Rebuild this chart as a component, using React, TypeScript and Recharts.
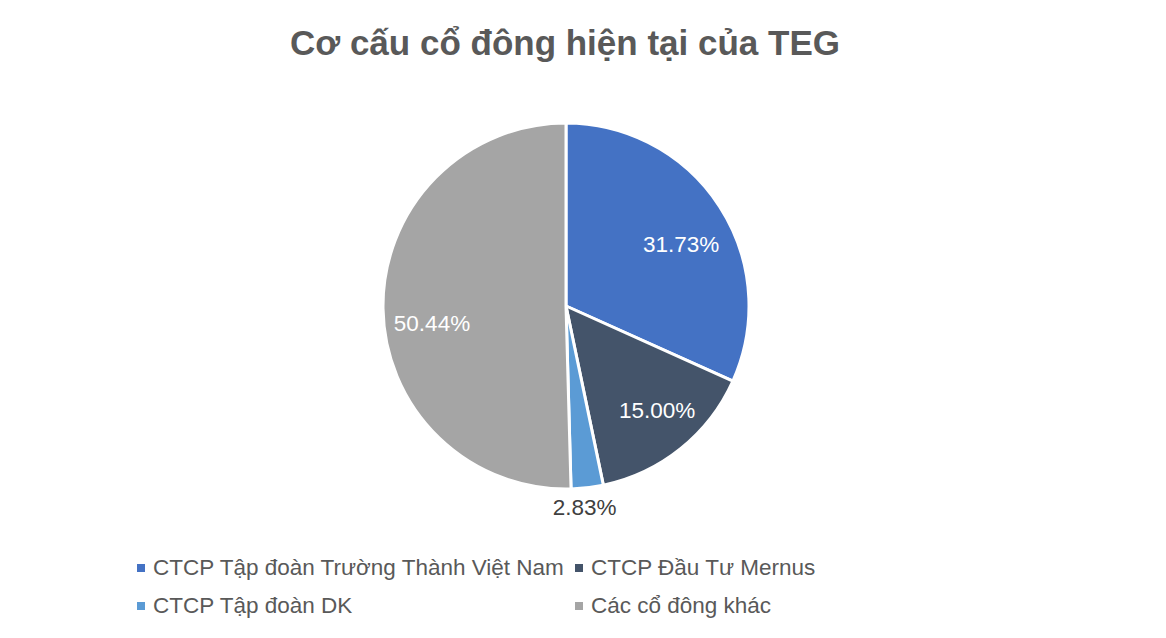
import { PieChart, Pie, Cell, Legend } from 'recharts';

const names = [
  'CTCP Tập đoàn Trường Thành Việt Nam',
  'CTCP Đầu Tư Mernus',
  'CTCP Tập đoàn DK',
  'Các cổ đông khác',
];
const shares = [31.73, 15.0, 2.83, 50.44];
const colors = ['#4472C4', '#44546A', '#5B9BD5', '#A5A5A5'];

const data = names.map((name, i) => ({ name, value: shares[i] }));

const RAD = Math.PI / 180;
const FONT = '"Liberation Sans", Arial, sans-serif';

// small nudges so the labels sit where Excel put them
const labelNudge = [
  [1, 12],
  [6, -2],
  [-5, 0],
  [2, 16],
];

const renderLabel = (props: any) => {
  const { cx, cy, midAngle, outerRadius, value, index } = props;
  const outside = index === 2;
  const r = outside ? outerRadius + 20 : 136;
  const x = cx + r * Math.cos(-midAngle * RAD) + labelNudge[index][0];
  const y = cy + r * Math.sin(-midAngle * RAD) + labelNudge[index][1];
  return (
    <text
      x={x}
      y={y}
      fill={outside ? '#404040' : '#ffffff'}
      fontSize={22.5}
      fontFamily={FONT}
      textAnchor="middle"
      dominantBaseline="central"
    >
      {value.toFixed(2)}%
    </text>
  );
};

const legendCols = [137, 575];

const renderLegend = () => (
  <div style={{ position: 'relative', width: 1166, height: 80, fontFamily: FONT }}>
    {names.map((n, i) => (
      <div
        key={n}
        style={{
          position: 'absolute',
          left: legendCols[i % 2],
          top: Math.floor(i / 2) * 38,
          display: 'flex',
          alignItems: 'center',
          fontSize: 22.5,
          lineHeight: '26px',
          color: '#595959',
          whiteSpace: 'nowrap',
        }}
      >
        <span style={{ width: 8, height: 8, background: colors[i], marginRight: 8 }} />
        {n}
      </div>
    ))}
  </div>
);

export default function App() {
  return (
    <div style={{ position: 'absolute', left: 0, top: 0, width: 1166, height: 638, background: '#fff' }}>
      <div
        style={{
          position: 'absolute',
          top: 22,
          left: 0,
          width: 1130,
          textAlign: 'center',
          fontFamily: FONT,
          fontWeight: 'bold',
          fontSize: 35,
          lineHeight: '42px',
          color: '#595959',
        }}
      >
        Cơ cấu cổ đông hiện tại của TEG
      </div>
      <PieChart width={1166} height={638}>
        <Pie
          data={data}
          dataKey="value"
          nameKey="name"
          cx={561}
          cy={301}
          outerRadius={183}
          startAngle={90}
          endAngle={-270}
          stroke="#ffffff"
          strokeWidth={3}
          label={renderLabel}
          labelLine={false}
          isAnimationActive={false}
        >
          {data.map((d, i) => (
            <Cell key={d.name} fill={colors[i]} />
          ))}
        </Pie>
        <Legend
          content={renderLegend}
          wrapperStyle={{ position: 'absolute', left: 0, top: 555, width: 1166 }}
        />
      </PieChart>
    </div>
  );
}
